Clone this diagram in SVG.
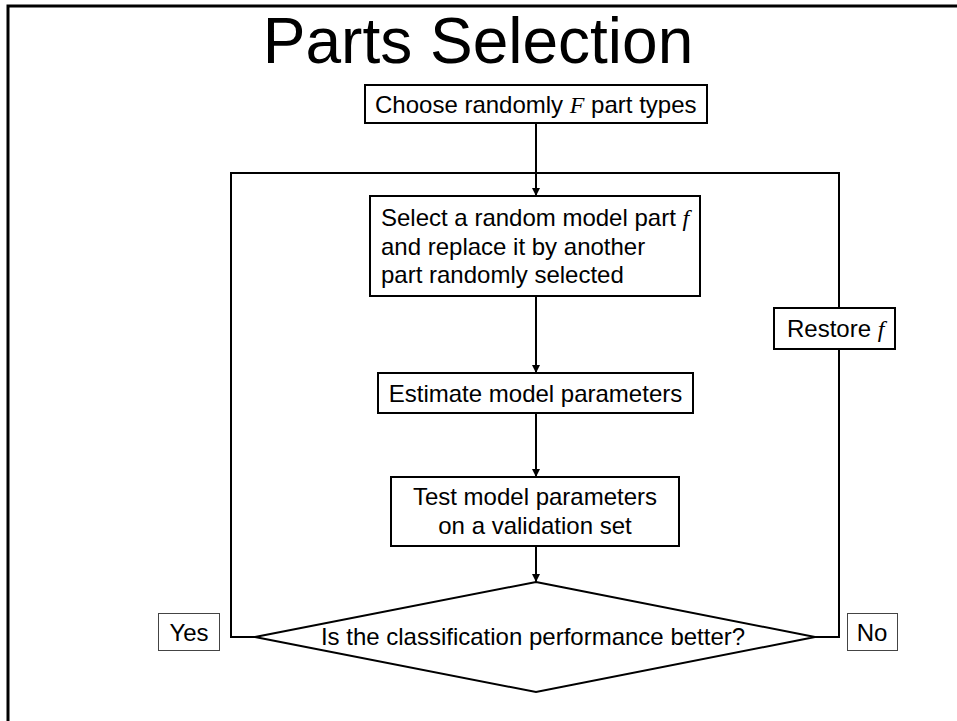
<svg xmlns="http://www.w3.org/2000/svg" width="957" height="721" viewBox="0 0 957 721">
<defs>
<marker id="ah" markerWidth="8" markerHeight="10" refX="8" refY="4" orient="auto" markerUnits="userSpaceOnUse" viewBox="0 0 8 8">
<path d="M0,0 L8,4 L0,8 Z" fill="#000"/>
</marker>
<style>
.t{font-family:"Liberation Sans",Arial,sans-serif;font-size:24px;fill:#000}
.m{font-family:"Liberation Serif","Times New Roman",serif;font-style:italic}
.box{fill:#fff;stroke:#000;stroke-width:2}
.lbl{fill:#fff;stroke:#444;stroke-width:1}
.ln{fill:none;stroke:#000;stroke-width:2}
</style>
</defs>
<rect width="957" height="721" fill="#fff"/>
<path d="M8,721 V6 H957" fill="none" stroke="#000" stroke-width="3"/>
<text x="478" y="63" text-anchor="middle" style="font-family:'Liberation Sans',Arial,sans-serif;font-size:64px">Parts Selection</text>
<g id="connectors">
<path class="ln" d="M255,637 H231 V173 H839 V308"/>
<path class="ln" d="M839,349 V637 H815"/>
<line class="ln" x1="536" y1="123" x2="536" y2="196" marker-end="url(#ah)"/>
<line class="ln" x1="536" y1="296" x2="536" y2="373" marker-end="url(#ah)"/>
<line class="ln" x1="536" y1="413" x2="536" y2="477" marker-end="url(#ah)"/>
<line class="ln" x1="536" y1="546" x2="536" y2="582" marker-end="url(#ah)"/>
</g>
<g id="choose">
<rect class="box" x="365" y="85" width="342" height="38"/>
<text class="t" x="375" y="113">Choose randomly <tspan class="m">F</tspan> part types</text>
</g>
<g id="select">
<rect class="box" x="370" y="196" width="330" height="100"/>
<text class="t" x="381" y="226">Select a random model part <tspan class="m">f</tspan></text>
<text class="t" x="381" y="255">and replace it by another</text>
<text class="t" x="381" y="283">part randomly selected</text>
</g>
<g id="restore">
<rect class="box" x="774" y="308" width="121" height="41"/>
<text class="t" x="787" y="337">Restore <tspan class="m">f</tspan></text>
</g>
<g id="estimate">
<rect class="box" x="378" y="373" width="315" height="40"/>
<text class="t" x="535.5" y="402" text-anchor="middle">Estimate model parameters</text>
</g>
<g id="test">
<rect class="box" x="391" y="477" width="288" height="69"/>
<text class="t" x="535" y="505" text-anchor="middle">Test model parameters</text>
<text class="t" x="535" y="534" text-anchor="middle">on a validation set</text>
</g>
<g id="decision">
<polygon class="box" points="536,582 815,637 536,692 255,637"/>
<text class="t" x="533" y="645" text-anchor="middle">Is the classification performance better?</text>
</g>
<g id="yes">
<rect class="lbl" x="158.5" y="613.5" width="61" height="37"/>
<text class="t" x="189" y="641" text-anchor="middle">Yes</text>
</g>
<g id="no">
<rect class="lbl" x="847.5" y="613.5" width="50" height="37"/>
<text class="t" x="872" y="641" text-anchor="middle">No</text>
</g>
</svg>
